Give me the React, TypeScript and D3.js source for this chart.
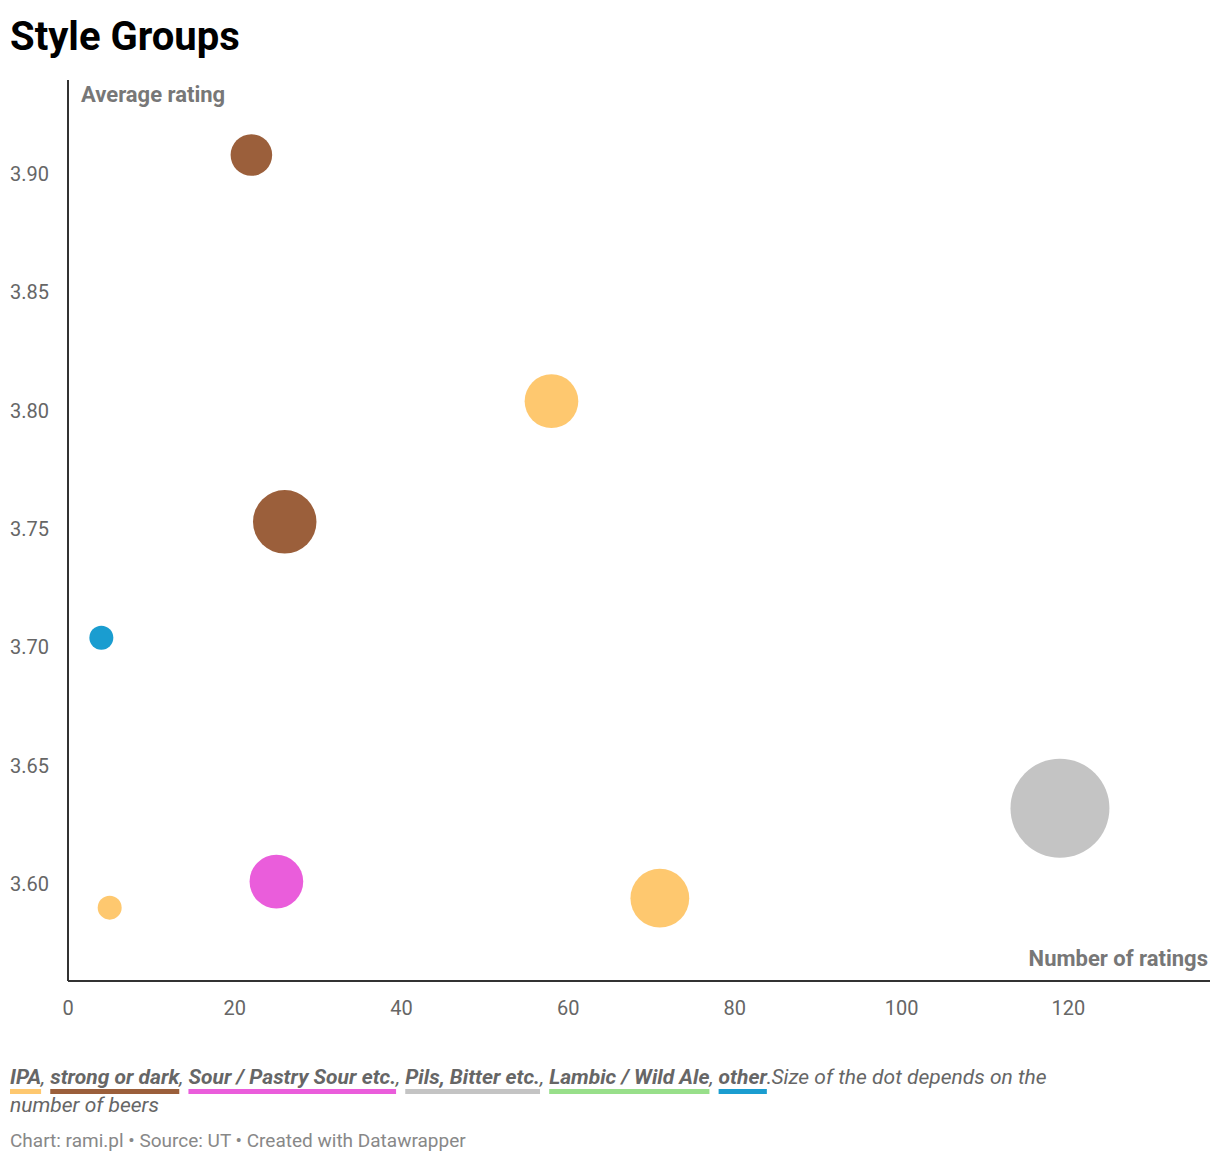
import React from "react";
import * as d3 from "d3";

const groups = ["IPA", "strong or dark", "Sour / Pastry Sour etc.", "Pils, Bitter etc.", "Lambic / Wild Ale", "other"];
const groupColors = ["#fec86f", "#9b5f3b", "#ea5ddb", "#c4c4c4", "#98df8a", "#1a9dd0"];
const ratingsCount = [22, 58, 26, 4, 119, 25, 5, 71];
const avgRating = [3.908, 3.804, 3.753, 3.704, 3.632, 3.601, 3.59, 3.594];
const beerCount = [3, 5, 7, 1, 17, 5, 1, 6];
const pointGroup = [1, 0, 1, 5, 3, 2, 0, 0];
const xTicks = [0, 20, 40, 60, 80, 100, 120];
const yTicks = [3.6, 3.65, 3.7, 3.75, 3.8, 3.85, 3.9];

const W = 1220, H = 1164;
const left = 68, right = 1210, top = 80, bottom = 981;
const font = "Roboto, sans-serif";

function measure(text: string, f: string) {
  const c = document.createElement("canvas").getContext("2d")!;
  c.font = f;
  return c.measureText(text).width;
}

export default function App() {
  const x = d3.scaleLinear().domain([0, 137]).range([left, right]);
  const y = d3.scaleLinear().domain([3.559, 3.9397]).range([bottom, top]);
  const r = d3.scaleSqrt().domain([0, 1]).range([0, 12]);

  const legendFont = `italic bold 21px ${font}`;
  let cx = 10;
  const legendItems = groups.map((g, i) => {
    const w = measure(g, legendFont);
    const item = { g, x: cx, w, color: groupColors[i], sep: i < groups.length - 1 ? "," : "." };
    cx += w + measure(item.sep + " ", `italic 21px ${font}`);
    return item;
  });
  const tail = " Size of the dot depends on the";

  return (
    <svg width={W} height={H} style={{ position: "absolute", left: 0, top: 0 }} fontFamily={font}>
      <rect width={W} height={H} fill="#fff" />
      <text x={10} y={50} fontSize={40} fontWeight="bold" fill="#000">Style Groups</text>
      <line x1={left} x2={left} y1={top} y2={bottom} stroke="#333" strokeWidth={2} />
      <line x1={left} x2={right} y1={bottom} y2={bottom} stroke="#333" strokeWidth={2} />
      {yTicks.map((t) => (
        <text key={t} x={10} y={y(t) + 7} fontSize={20} fill="#666">{t.toFixed(2)}</text>
      ))}
      {xTicks.map((t) => (
        <text key={t} x={x(t)} y={1015} fontSize={20} fill="#666" textAnchor="middle">{t}</text>
      ))}
      <text x={81} y={102} fontSize={22} fontWeight="bold" fill="#777">Average rating</text>
      <text x={1208} y={966} fontSize={22} fontWeight="bold" fill="#777" textAnchor="end">Number of ratings</text>
      {ratingsCount.map((v, i) => (
        <circle key={i} cx={x(v)} cy={y(avgRating[i])} r={r(beerCount[i])} fill={groupColors[pointGroup[i]]} />
      ))}
      {legendItems.map((it) => (
        <g key={it.g}>
          <text x={it.x} y={1084} fontSize={21} fontStyle="italic" fontWeight="bold" fill="#666">{it.g}</text>
          <text x={it.x + it.w} y={1084} fontSize={21} fontStyle="italic" fill="#666">{it.sep}</text>
          <rect x={it.x} y={1089} width={it.w} height={5} fill={it.color} />
        </g>
      ))}
      <text x={cx - 6} y={1084} fontSize={21} fontStyle="italic" fill="#666">{tail}</text>
      <text x={10} y={1112} fontSize={21} fontStyle="italic" fill="#666">number of beers</text>
      <text x={10} y={1147} fontSize={19} fill="#888">Chart: rami.pl • Source: UT • Created with Datawrapper</text>
    </svg>
  );
}
